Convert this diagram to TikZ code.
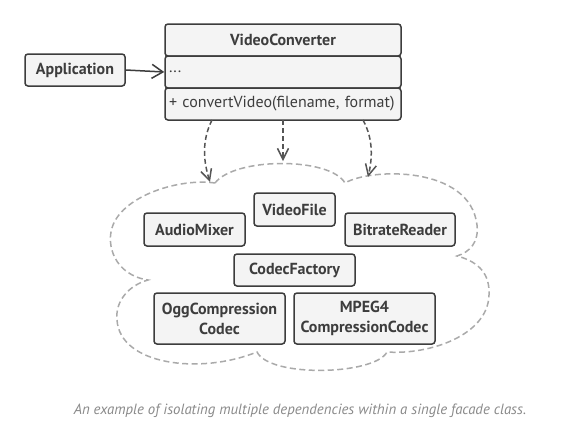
\documentclass[tikz,border=0pt]{standalone}
\usepackage{fontspec}
\setmainfont{PT Sans}
\usetikzlibrary{arrows.meta}
\definecolor{boxfill}{HTML}{F4F4F4}
\definecolor{boxline}{HTML}{3D3D3D}
\definecolor{cloudline}{HTML}{AAAAAA}
\definecolor{arrline}{HTML}{555555}
\definecolor{captext}{HTML}{8A8A8A}
\begin{document}
\begin{tikzpicture}[x=1pt,y=-1pt,
  box/.style={draw=boxline, fill=boxfill, line width=1.5pt, rounded corners=3pt,
    inner sep=0pt, font=\fontsize{16}{20}\selectfont\bfseries, text=boxline, align=center},
  rowbox/.style={box, minimum width=236pt, minimum height=32pt},
  fieldbox/.style={rowbox, font=\fontsize{16}{18}\selectfont, text width=228pt, align=left},
  assoc/.style={draw=boxline, line width=1.5pt, -{Straight Barb[length=11pt,width=14pt,line width=1.5pt]}},
  dep/.style={draw=arrline, line width=1.5pt, dash pattern=on 5pt off 3pt,
    -{Straight Barb[length=11pt,width=11pt,line width=1.5pt]}},
  cloud/.style={draw=cloudline, line width=1.5pt, dash pattern=on 6pt off 3.5pt}]
\useasboundingbox (0,0) rectangle (566,437);
\fill[white] (0,0) rectangle (566,437);

% cloud
\draw[cloud] (215,183) .. controls (235,157) and (330,157) .. (345,183)
  .. controls (370,168) and (470,165) .. (477,225)
  .. controls (479,242) and (470,252) .. (457,256)
  .. controls (480,262) and (490,275) .. (489,295)
  .. controls (488,335) and (430,355) .. (387,352)
  .. controls (375,375) and (270,378) .. (257,352)
  .. controls (200,375) and (120,365) .. (117,320)
  .. controls (115,300) and (130,285) .. (148,280)
  .. controls (115,275) and (105,245) .. (113,225)
  .. controls (125,195) and (180,178) .. (215,183) -- cycle;

% facade class
\node[box, minimum width=100pt, minimum height=32pt] (app) at (75,70) {Application};
\node[rowbox] (vchead) at (283,40) {VideoConverter};
\node[fieldbox] (vcfields) at (283,72) {...};
\node[fieldbox] (vcmeth) at (283,104) {+ convertVideo(filename, format)};

% subsystem classes
\node[box, minimum width=101pt, minimum height=33pt] (audio) at (194.5,229.5) {AudioMixer};
\node[box, minimum width=81pt, minimum height=33pt] (vfile) at (294.5,209.5) {VideoFile};
\node[box, minimum width=110pt, minimum height=33pt] (bitrate) at (400,229.5) {BitrateReader};
\node[box, minimum width=121pt, minimum height=32pt] (codecf) at (294.5,270) {CodecFactory};
\node[box, minimum width=131pt, minimum height=51pt] (ogg) at (219.5,318.5) {OggCompression\\Codec};
\node[box, minimum width=141pt, minimum height=51pt] (mpeg) at (364.5,318.5) {MPEG4\\CompressionCodec};

% connectors
\draw[assoc] (app.east) -- (vcfields.west);
\coordinate (s1) at (212,120);
\coordinate (s2) at (283,120);
\coordinate (s3) at (363,120);
\coordinate (e1) at (210,182);
\coordinate (e2) at (283,161);
\coordinate (e3) at (368,177);
\draw[dep] (s1) .. controls (202,140) and (203,160) .. (e1);
\draw[dep] (s2) -- (e2);
\draw[dep] (s3) .. controls (374,140) and (372,160) .. (e3);

% caption
\node[font=\fontsize{14.8}{17}\selectfont\itshape, text=captext] (caption) at (300,411)
  {An example of isolating multiple dependencies within a single facade class.};
\end{tikzpicture}
\end{document}
